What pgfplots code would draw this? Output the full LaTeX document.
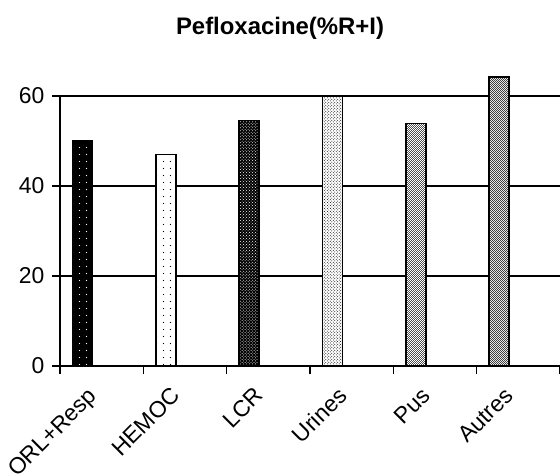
\documentclass[border=0pt]{standalone}
\usepackage{pgfplots}
\pgfplotsset{compat=1.18}
\usepackage{fontspec}
\setmainfont{Liberation Sans}
\usetikzlibrary{patterns}

% sparse dots, as in the first two bars
\pgfdeclarepatternformonly{sparsedots}{\pgfpointorigin}{\pgfpoint{6.5pt}{6.5pt}}{\pgfpoint{6.5pt}{6.5pt}}{
  \pgfpathcircle{\pgfpoint{1.6pt}{1.6pt}}{0.65pt}\pgfusepath{fill}}
% fine checker
\pgfdeclarepatternformonly{checker}{\pgfpointorigin}{\pgfpoint{2pt}{2pt}}{\pgfpoint{2pt}{2pt}}{
  \pgfpathrectangle{\pgfpointorigin}{\pgfpoint{1pt}{1pt}}\pgfusepath{fill}
  \pgfpathrectangle{\pgfpoint{1pt}{1pt}}{\pgfpoint{1pt}{1pt}}\pgfusepath{fill}}

\begin{document}
\begin{tikzpicture}[x=1bp,y=1bp]
\useasboundingbox (0,0) rectangle (560,476);
\node[font=\bfseries\fontsize{24}{27}\selectfont] at (280,448) {Pefloxacine(\%R+I)};
\begin{axis}[
  at={(60bp,110bp)}, anchor=south west,
  scale only axis, width=500bp, height=270bp,
  xmin=-0.5, xmax=5.5, ymin=0, ymax=60,
  axis x line=bottom, axis y line=left,
  axis line style={-, line width=1.3bp},
  ytick={0,20,40,60},
  ymajorgrids, grid style={black, line width=1.3bp},
  tick align=outside, major tick length=8bp,
  tick style={black, line width=1.3bp},
  xtick={-0.5,0.5,...,5.5}, xticklabels={},
  extra x ticks={0,1,2,3,4,5},
  extra x tick labels={ORL+Resp,HEMOC,LCR,Urines,Pus,Autres},
  extra x tick style={major tick length=0pt},
  x tick label style={xshift=-15bp, yshift=-15bp, rotate=45, anchor=north east,
    font=\fontsize{23}{27}\selectfont},
  y tick label style={xshift=-4bp, font=\fontsize{23}{26}\selectfont},
  /pgf/number format/assume math mode=true,
  clip=false,
]
\addplot[ybar, bar width=0.24, bar shift=0pt, draw=black, line width=1.5bp,
  fill=black, postaction={pattern=sparsedots, pattern color=white}] coordinates {(-0.23,50)};
\addplot[ybar, bar width=0.24, bar shift=0pt, draw=black, line width=1.5bp,
  fill=white, postaction={pattern=sparsedots, pattern color=black}] coordinates {(0.77,47)};
\addplot[ybar, bar width=0.24, bar shift=0pt, draw=black, line width=1.5bp,
  fill=black, postaction={pattern=crosshatch dots, pattern color=white}] coordinates {(1.77,54.6)};
\addplot[ybar, bar width=0.24, bar shift=0pt, draw=black, line width=1.5bp,
  fill=white, postaction={pattern=crosshatch dots, pattern color=black}] coordinates {(2.77,60)};
\addplot[ybar, bar width=0.24, bar shift=0pt, draw=black, line width=1.5bp,
  fill=black!80, postaction={pattern=checker, pattern color=white}] coordinates {(3.77,53.9)};
\addplot[ybar, bar width=0.24, bar shift=0pt, draw=black, line width=1.5bp,
  fill=white, postaction={pattern=checker, pattern color=black!75}] coordinates {(4.77,64.2)};
\end{axis}
\end{tikzpicture}
\end{document}
